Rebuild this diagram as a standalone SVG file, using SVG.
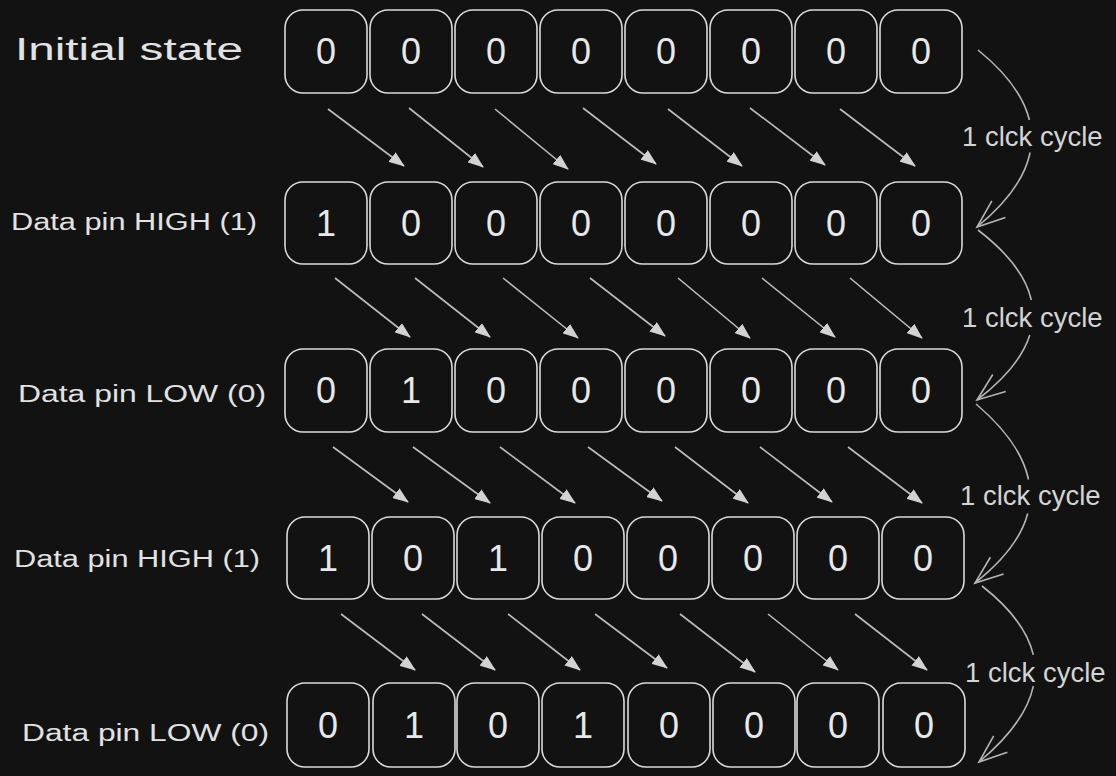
<svg xmlns="http://www.w3.org/2000/svg" width="1116" height="776" viewBox="0 0 1116 776">
<style>
.bg{fill:#121212}
.box{fill:none;stroke:#dadada;stroke-width:1.6}
.dig{font-family:"Liberation Sans",Arial,sans-serif;font-size:36px;fill:#e8e8e8;text-anchor:middle}
.lbl{font-family:"Liberation Sans",Arial,sans-serif;fill:#e2e2e2}
.clk{font-family:"Liberation Sans",Arial,sans-serif;font-size:27.5px;fill:#d4d4d4}
.shift{stroke:#bdbdbd;stroke-width:1.6;fill:none;marker-end:url(#tri)}
.cyc{stroke:#b5b5b5;stroke-width:1.6;fill:none}
.cyc.end{marker-end:url(#open)}
</style>
<defs>
<marker id="tri" markerUnits="userSpaceOnUse" viewBox="0 0 16 12" refX="15" refY="6" markerWidth="16" markerHeight="12" orient="auto">
<path d="M0,0 L16,6 L0,12 z" fill="#d2d2d2"/>
</marker>
<marker id="open" markerUnits="userSpaceOnUse" viewBox="-2 -2 32 26" refX="28" refY="10.7" markerWidth="32" markerHeight="26" orient="auto" overflow="visible">
<path d="M0,0 L28,10.7 L0,21.4" fill="none" stroke="#b5b5b5" stroke-width="1.6"/>
</marker>
</defs>
<rect class="bg" x="0" y="0" width="1116" height="776"/>

<g id="labels">
<text class="lbl" x="15" y="60" font-size="31" textLength="228" lengthAdjust="spacingAndGlyphs">Initial state</text>
<text class="lbl" x="11" y="230" font-size="23" textLength="246" lengthAdjust="spacingAndGlyphs">Data pin HIGH (1)</text>
<text class="lbl" x="18" y="402" font-size="23" textLength="248" lengthAdjust="spacingAndGlyphs">Data pin LOW (0)</text>
<text class="lbl" x="14" y="567" font-size="23" textLength="246" lengthAdjust="spacingAndGlyphs">Data pin HIGH (1)</text>
<text class="lbl" x="22" y="741" font-size="23" textLength="247" lengthAdjust="spacingAndGlyphs">Data pin LOW (0)</text>
</g>

<g id="row1">
<g id="r1c1"><rect class="box" x="285" y="10" width="82" height="83" rx="18"/><text class="dig" x="326" y="64">0</text></g>
<g id="r1c2"><rect class="box" x="370" y="10" width="82" height="83" rx="18"/><text class="dig" x="411" y="64">0</text></g>
<g id="r1c3"><rect class="box" x="455" y="10" width="82" height="83" rx="18"/><text class="dig" x="496" y="64">0</text></g>
<g id="r1c4"><rect class="box" x="540" y="10" width="82" height="83" rx="18"/><text class="dig" x="581" y="64">0</text></g>
<g id="r1c5"><rect class="box" x="625" y="10" width="82" height="83" rx="18"/><text class="dig" x="666" y="64">0</text></g>
<g id="r1c6"><rect class="box" x="710" y="10" width="82" height="83" rx="18"/><text class="dig" x="751" y="64">0</text></g>
<g id="r1c7"><rect class="box" x="795" y="10" width="82" height="83" rx="18"/><text class="dig" x="836" y="64">0</text></g>
<g id="r1c8"><rect class="box" x="880" y="10" width="82" height="83" rx="18"/><text class="dig" x="921" y="64">0</text></g>
</g>

<g id="row2">
<g id="r2c1"><rect class="box" x="285" y="182" width="82" height="82" rx="18"/><text class="dig" x="326" y="236">1</text></g>
<g id="r2c2"><rect class="box" x="370" y="182" width="82" height="82" rx="18"/><text class="dig" x="411" y="236">0</text></g>
<g id="r2c3"><rect class="box" x="455" y="182" width="82" height="82" rx="18"/><text class="dig" x="496" y="236">0</text></g>
<g id="r2c4"><rect class="box" x="540" y="182" width="82" height="82" rx="18"/><text class="dig" x="581" y="236">0</text></g>
<g id="r2c5"><rect class="box" x="625" y="182" width="82" height="82" rx="18"/><text class="dig" x="666" y="236">0</text></g>
<g id="r2c6"><rect class="box" x="710" y="182" width="82" height="82" rx="18"/><text class="dig" x="751" y="236">0</text></g>
<g id="r2c7"><rect class="box" x="795" y="182" width="82" height="82" rx="18"/><text class="dig" x="836" y="236">0</text></g>
<g id="r2c8"><rect class="box" x="880" y="182" width="82" height="82" rx="18"/><text class="dig" x="921" y="236">0</text></g>
</g>

<g id="row3">
<g id="r3c1"><rect class="box" x="285" y="349" width="82" height="83" rx="18"/><text class="dig" x="326" y="403">0</text></g>
<g id="r3c2"><rect class="box" x="370" y="349" width="82" height="83" rx="18"/><text class="dig" x="411" y="403">1</text></g>
<g id="r3c3"><rect class="box" x="455" y="349" width="82" height="83" rx="18"/><text class="dig" x="496" y="403">0</text></g>
<g id="r3c4"><rect class="box" x="540" y="349" width="82" height="83" rx="18"/><text class="dig" x="581" y="403">0</text></g>
<g id="r3c5"><rect class="box" x="625" y="349" width="82" height="83" rx="18"/><text class="dig" x="666" y="403">0</text></g>
<g id="r3c6"><rect class="box" x="710" y="349" width="82" height="83" rx="18"/><text class="dig" x="751" y="403">0</text></g>
<g id="r3c7"><rect class="box" x="795" y="349" width="82" height="83" rx="18"/><text class="dig" x="836" y="403">0</text></g>
<g id="r3c8"><rect class="box" x="880" y="349" width="82" height="83" rx="18"/><text class="dig" x="921" y="403">0</text></g>
</g>

<g id="row4">
<g id="r4c1"><rect class="box" x="287" y="517" width="82" height="82" rx="18"/><text class="dig" x="328" y="571">1</text></g>
<g id="r4c2"><rect class="box" x="372" y="517" width="82" height="82" rx="18"/><text class="dig" x="413" y="571">0</text></g>
<g id="r4c3"><rect class="box" x="457" y="517" width="82" height="82" rx="18"/><text class="dig" x="498" y="571">1</text></g>
<g id="r4c4"><rect class="box" x="542" y="517" width="82" height="82" rx="18"/><text class="dig" x="583" y="571">0</text></g>
<g id="r4c5"><rect class="box" x="627" y="517" width="82" height="82" rx="18"/><text class="dig" x="668" y="571">0</text></g>
<g id="r4c6"><rect class="box" x="712" y="517" width="82" height="82" rx="18"/><text class="dig" x="753" y="571">0</text></g>
<g id="r4c7"><rect class="box" x="797" y="517" width="82" height="82" rx="18"/><text class="dig" x="838" y="571">0</text></g>
<g id="r4c8"><rect class="box" x="882" y="517" width="82" height="82" rx="18"/><text class="dig" x="923" y="571">0</text></g>
</g>

<g id="row5">
<g id="r5c1"><rect class="box" x="287" y="683" width="82" height="84" rx="18"/><text class="dig" x="328" y="738">0</text></g>
<g id="r5c2"><rect class="box" x="373" y="683" width="82" height="84" rx="18"/><text class="dig" x="414" y="738">1</text></g>
<g id="r5c3"><rect class="box" x="457" y="683" width="82" height="84" rx="18"/><text class="dig" x="498" y="738">0</text></g>
<g id="r5c4"><rect class="box" x="542" y="683" width="82" height="84" rx="18"/><text class="dig" x="583" y="738">1</text></g>
<g id="r5c5"><rect class="box" x="628" y="683" width="82" height="84" rx="18"/><text class="dig" x="669" y="738">0</text></g>
<g id="r5c6"><rect class="box" x="713" y="683" width="82" height="84" rx="18"/><text class="dig" x="754" y="738">0</text></g>
<g id="r5c7"><rect class="box" x="797" y="683" width="82" height="84" rx="18"/><text class="dig" x="838" y="738">0</text></g>
<g id="r5c8"><rect class="box" x="883" y="683" width="82" height="84" rx="18"/><text class="dig" x="924" y="738">0</text></g>
</g>

<g id="connectors">
<line class="shift" x1="328" y1="109" x2="404" y2="166"/>
<line class="shift" x1="409" y1="108" x2="483" y2="167"/>
<line class="shift" x1="495" y1="109" x2="568" y2="169"/>
<line class="shift" x1="583" y1="108" x2="656" y2="164"/>
<line class="shift" x1="668" y1="109" x2="742" y2="166"/>
<line class="shift" x1="750" y1="108" x2="825" y2="165"/>
<line class="shift" x1="840" y1="109" x2="915" y2="166"/>

<line class="shift" x1="335" y1="278" x2="410" y2="337"/>
<line class="shift" x1="415" y1="278" x2="490" y2="337"/>
<line class="shift" x1="503" y1="278" x2="578" y2="338"/>
<line class="shift" x1="590" y1="278" x2="665" y2="336"/>
<line class="shift" x1="678" y1="278" x2="750" y2="338"/>
<line class="shift" x1="762" y1="278" x2="835" y2="337"/>
<line class="shift" x1="850" y1="278" x2="922" y2="338"/>

<line class="shift" x1="333" y1="447" x2="408" y2="502"/>
<line class="shift" x1="413" y1="447" x2="490" y2="503"/>
<line class="shift" x1="500" y1="447" x2="575" y2="503"/>
<line class="shift" x1="588" y1="447" x2="662" y2="501"/>
<line class="shift" x1="675" y1="447" x2="748" y2="503"/>
<line class="shift" x1="760" y1="447" x2="832" y2="502"/>
<line class="shift" x1="848" y1="447" x2="922" y2="503"/>

<line class="shift" x1="341" y1="614" x2="415" y2="670"/>
<line class="shift" x1="422" y1="614" x2="495" y2="670"/>
<line class="shift" x1="508" y1="614" x2="580" y2="670"/>
<line class="shift" x1="595" y1="614" x2="667" y2="668"/>
<line class="shift" x1="680" y1="614" x2="755" y2="672"/>
<line class="shift" x1="768" y1="614" x2="838" y2="670"/>
<line class="shift" x1="855" y1="614" x2="927" y2="670"/>

<path class="cyc" d="M978,50 Q1020.7,84.6 1029.4,120"/>
<path class="cyc end" d="M1030.1,152.5 Q1022.6,189.6 977,227"/>
<path class="cyc" d="M978,230 Q1023.5,265 1031.3,300"/>
<path class="cyc end" d="M1029.8,335.1 Q1019.6,367.5 977,400"/>
<path class="cyc" d="M976,404 Q1020.8,442.2 1028.5,479.5"/>
<path class="cyc end" d="M1027.7,513.5 Q1018.5,548.7 975,583"/>
<path class="cyc" d="M982,586 Q1025.3,619.9 1033.3,654.9"/>
<path class="cyc end" d="M1033.3,686.1 Q1025.4,723.4 979,762"/>
</g>

<g id="cycle-labels">
<text class="clk" x="962" y="146">1 clck cycle</text>
<text class="clk" x="962" y="327">1 clck cycle</text>
<text class="clk" x="960" y="505">1 clck cycle</text>
<text class="clk" x="965" y="682">1 clck cycle</text>
</g>
</svg>
